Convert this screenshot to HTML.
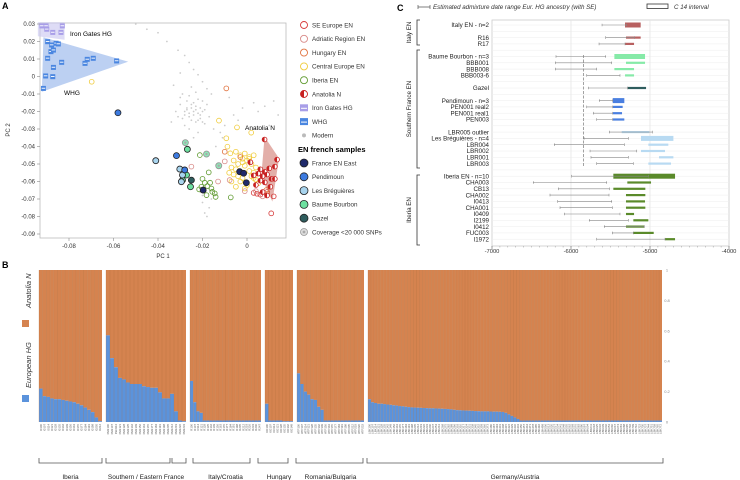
<!DOCTYPE html>
<html><head><meta charset="utf-8"><style>
html,body{margin:0;padding:0;background:#fff}
svg{display:block;font-family:"Liberation Sans",sans-serif}
</style></head><body>
<svg id="fig" width="740" height="480" viewBox="0 0 740 480">
<text x="2" y="9" font-size="9" font-weight="bold">A</text>
<text x="2" y="268" font-size="9" font-weight="bold">B</text>
<text x="397" y="11" font-size="9" font-weight="bold">C</text>
<g id="pa"></g>
<g id="leg"></g>
<g id="pb"></g>
<g id="pc"></g>
</svg>
<script>
// ---------- Panel A data (PC1, PC2) ----------
const whgX=[-0.0896,-0.0878,-0.0858,-0.0848,-0.0881,-0.0870,-0.0896,-0.0833,-0.0870,-0.0728,-0.0718,-0.0691,-0.0586,-0.0905,-0.0873,-0.0915];
const whgY=[0.0199,0.0180,0.0190,0.0186,0.0142,0.0151,0.0104,0.0081,0.0052,0.0075,0.0098,0.0104,0.0089,0.0003,-0.0001,-0.0068];
const igX=[-0.0922,-0.0903,-0.0900,-0.0873,-0.0836,-0.0830];
const igY=[0.0289,0.0289,0.0270,0.0252,0.0252,0.0289];
const modX=[-0.050,-0.045,-0.040,-0.036,-0.031,-0.028,-0.026,-0.024,-0.022,-0.020,-0.018,-0.016,-0.030,-0.027,-0.025,-0.023,-0.021,-0.019,-0.028,-0.026,-0.024,-0.022,-0.020,-0.017,-0.029,-0.025,-0.023,-0.021,-0.019,-0.027,-0.024,-0.022,-0.018,-0.026,-0.023,-0.020,-0.032,-0.034,-0.015,-0.012,-0.010,-0.006,-0.002,0.003,0.008,0.012,0.014,-0.008,-0.004,0.005,0.010,-0.014,-0.011,-0.020,-0.017,-0.019,-0.016,-0.021,-0.018,-0.020,-0.017,-0.033,-0.030,-0.022,-0.024,-0.026,-0.028,-0.031,-0.029,-0.025,-0.027,-0.025,-0.023,-0.021,-0.026,-0.024,-0.022,-0.028,-0.030,-0.020];
const modY=[0.030,0.027,0.025,0.020,0.015,0.012,0.008,0.004,0.001,-0.003,-0.007,-0.010,-0.012,-0.014,-0.016,-0.017,-0.018,-0.019,-0.020,-0.021,-0.022,-0.021,-0.020,-0.023,-0.024,-0.025,-0.026,-0.024,-0.027,-0.018,-0.015,-0.013,-0.016,-0.011,-0.009,-0.014,-0.020,-0.026,-0.030,-0.032,-0.028,-0.022,-0.018,-0.015,-0.017,-0.014,-0.022,-0.012,-0.025,-0.020,-0.028,-0.040,-0.035,-0.072,-0.075,-0.078,-0.070,-0.066,-0.080,-0.068,-0.064,-0.005,0.002,-0.032,-0.035,-0.030,-0.028,-0.023,-0.010,-0.006,-0.019,-0.018,-0.019,-0.022,-0.023,-0.020,-0.025,-0.022,-0.016,-0.026];
const ceX=[-0.0698,-0.0126,-0.0045,-0.0093,-0.0088,0.0019,-0.0075,-0.005,-0.003,-0.001,0.001,0.003,-0.006,-0.004,-0.002,0.000,0.002,0.004,-0.007,-0.005,-0.001,0.001,0.003,-0.006,-0.004,-0.002,0.002,0.004,-0.008,-0.003,0.000,0.005,-0.005,-0.001,0.003,-0.007,-0.002,0.001];
const ceY=[-0.0030,-0.0252,-0.0291,-0.0353,-0.0401,-0.0321,-0.0439,-0.043,-0.045,-0.044,-0.046,-0.045,-0.048,-0.050,-0.049,-0.048,-0.050,-0.052,-0.052,-0.053,-0.051,-0.054,-0.055,-0.056,-0.057,-0.058,-0.057,-0.059,-0.055,-0.060,-0.062,-0.061,-0.063,-0.064,-0.058,-0.060,-0.047,-0.047];
const ibX=[-0.0212,-0.0172,-0.0190,-0.0205,-0.0178,-0.0156,-0.0145,-0.0182,-0.0141,-0.0073,-0.0200,-0.0166,-0.0215,-0.0160];
const ibY=[-0.0449,-0.0548,-0.0607,-0.0630,-0.0626,-0.0659,-0.0668,-0.0678,-0.0688,-0.0691,-0.0585,-0.0607,-0.0645,-0.0640];
const seX=[0.0109,0.003,0.006,0.009,0.012,0.0015,0.0045];
const seY=[-0.0782,-0.0665,-0.0675,-0.0660,-0.0685,-0.0490,-0.0670];
const adX=[-0.025,-0.0078,-0.001,-0.013,-0.010,0.007,0.004];
const adY=[-0.0515,-0.0592,-0.0655,-0.0600,-0.0485,-0.0685,-0.0655];
const huX=[-0.0093,-0.0100,0.0087,-0.003,0.009];
const huY=[-0.0068,-0.0430,-0.0649,-0.0460,-0.0670];
const anX=[0.0079,0.0015,0.006,0.008,0.010,0.0125,0.005,0.007,0.009,0.011,0.006,0.008,0.004,0.0105,0.0135,0.0125,0.003,0.007,0.009];
const anY=[-0.0360,-0.0490,-0.0530,-0.0545,-0.0525,-0.0515,-0.0555,-0.0570,-0.0560,-0.0585,-0.0595,-0.0605,-0.0620,-0.0630,-0.0475,-0.0585,-0.0565,-0.0660,-0.0680];
const feX=[-0.0033,-0.0015,-0.0003,-0.0197];
const feY=[-0.0544,-0.0553,-0.0607,-0.0649];
const peX=[-0.058,-0.0317,-0.028];
const peY=[-0.0207,-0.0452,-0.0534];
const lbX=[-0.041,-0.0302,-0.029,-0.0295];
const lbY=[-0.0481,-0.0529,-0.0563,-0.0601];
const bbX=[-0.0268,-0.0272,-0.029,-0.0254];
const bbY=[-0.0416,-0.0563,-0.0592,-0.0630];
const lowX=[-0.0277,-0.0182,-0.0127];
const lowY=[-0.0378,-0.0443,-0.0510];
const gzX=[-0.025];
const gzY=[-0.0592];
const pcaXTicks=[-0.08,-0.06,-0.04,-0.02,0];
const pcaYTicks=[0.03,0.02,0.01,0,-0.01,-0.02,-0.03,-0.04,-0.05,-0.06,-0.07,-0.08,-0.09];

// ---------- Panel B data (European HG fraction) ----------
const bIberia=[0.22,0.17,0.165,0.155,0.15,0.15,0.145,0.14,0.135,0.13,0.12,0.11,0.095,0.08,0.065,0.03,0.005];
const bFrance=[0.57,0.42,0.36,0.29,0.28,0.26,0.25,0.25,0.25,0.235,0.23,0.225,0.225,0.195,0.155,0.155,0.185,0.07,0.01,0.005];
const bItaly=[0.27,0.13,0.07,0.06,0.01,0.01,0.01,0.01,0.01,0.01,0.01,0.01,0.01,0.01,0.01,0.01,0.01,0.01,0.01,0.01,0.01,0.01];
const bHungary=[0.12,0.01,0.01,0.01,0.01,0.005,0.005,0.005];
const bRomania=[0.32,0.25,0.2,0.18,0.15,0.145,0.1,0.08,0.01,0.01,0.01,0.01,0.01,0.01,0.01,0.01,0.01,0.01,0.01,0.01];
const bGermany=[0.15,0.13,0.125,0.12,0.12,0.118,0.115,0.113,0.11,0.108,0.105,0.103,0.1,0.098,0.096,0.095,0.094,0.093,0.092,0.091,0.09,0.09,0.089,0.088,0.087,0.086,0.085,0.083,0.08,0.078,0.077,0.076,0.075,0.074,0.073,0.072,0.071,0.07,0.07,0.07,0.069,0.068,0.068,0.067,0.066,0.06,0.05,0.04,0.03,0.02,0.01,0.01,0.01,0.01,0.01,0.01,0.01,0.01,0.01,0.01,0.01,0.01,0.01,0.01,0.01,0.01,0.01,0.01,0.01,0.01,0.01,0.01,0.01,0.01,0.01,0.01,0.01,0.01,0.01,0.01,0.01,0.01,0.01,0.01,0.01,0.01,0.01,0.01,0.01,0.01,0.01,0.01,0.01,0.01,0.01,0.01,0.01];
const bGroups=["Iberia","Southern / Eastern France","Italy/Croatia","Hungary","Romania/Bulgaria","Germany/Austria"];
const bPrefix=["I0","PEN","R","KO","ATP","LBK"];
const bYTicks=[1,0.8,0.6,0.4,0.2,0];

// ---------- Panel C data (years) ----------
const cLabels=["Italy EN - n=2","R16","R17","Baume Bourbon - n=3","BBB001","BBB008","BBB003-6","Gazel","Pendimoun - n=3","PEN001 real2","PEN001 real1","PEN003","LBR005 outlier","Les Bréguières - n=4","LBR004","LBR002","LBR001","LBR003","Iberia EN - n=10","CHA003","CB13","CHA002","I0413","CHA001","I0409","I2199","I0412","FUC003","I1972"];
const cRows=[0,2,3,5,6,7,8,10,12,13,14,15,17,18,19,20,21,22,24,25,26,27,28,29,30,31,32,33,34];
const admLo=[-5607,-5561,-5645,-6190,-6198,-6198,-5801,-5780,-5641,-5801,-5717,-5675,-5514,-5835,-6211,-5759,-5747,-5675,-5991,-6477,-6160,-6266,-6169,-6139,-6084,-5768,-5578,-5477,-5675];
const admHi=[-5295,-5198,-5316,-5561,-5485,-5675,-5380,-5282,-5472,-5472,-5472,-5472,-4970,-5274,-5325,-5168,-5274,-5211,-5021,-5548,-5514,-5519,-5485,-5477,-5380,-5274,-5072,-5211,-4810];
const c14Lo=[-5316,-5304,-5316,-5451,-5304,-5451,-5316,-5287,-5472,-5472,-5472,-5472,-5358,-5114,-5021,-5114,-4886,-5021,-5464,-5287,-5464,-5304,-5304,-5304,-5304,-5211,-5304,-5211,-4810];
const c14Hi=[-5118,-5118,-5202,-5063,-5063,-5202,-5202,-5050,-5325,-5346,-5354,-5325,-5008,-4704,-4768,-4810,-4704,-4734,-4683,-4987,-5059,-5059,-5063,-5059,-5202,-5021,-5072,-4953,-4683];
const cGroup=[0,0,0,1,1,1,1,2,3,3,3,3,4,4,4,4,4,4,5,5,5,5,5,5,5,5,5,5,5];
const cXTicks=[-7000,-6000,-5000,-4000];

const NS="http://www.w3.org/2000/svg";
function mk(p,t,a,txt){const e=document.createElementNS(NS,t);for(const k in a)e.setAttribute(k,a[k]);if(txt!==undefined)e.textContent=txt;p.appendChild(e);return e;}

// ===== Panel A =====
const pa=document.getElementById('pa');
const ax=x=>247+x*2225, ay=y=>24+(0.03-y)*1750;
mk(pa,'rect',{x:40,y:23,width:246,height:215,fill:'#fff',stroke:'#bbb','stroke-width':0.8});
for(let i=0;i<modX.length;i++){const e=mk(pa,'circle',{cx:ax(modX[i]),cy:ay(modY[i]),r:0.9,fill:'#ccc'});

}
let h=mk(pa,'polygon',{points:[[-0.0915,0.0224],[-0.0534,0.0085],[-0.0922,-0.0087]].map(p=>ax(p[0])+','+ay(p[1])).join(' '),fill:'#8fb0ea','fill-opacity':0.6});

h=mk(pa,'polygon',{points:[[-0.094,0.031],[-0.082,0.031],[-0.082,0.021],[-0.094,0.023]].map(p=>ax(p[0])+','+ay(p[1])).join(' '),fill:'#c8c4f0','fill-opacity':0.6});

h=mk(pa,'polygon',{points:[[0.0079,-0.0344],[0.0144,-0.0468],[0.0114,-0.0715],[0.0064,-0.0573]].map(p=>ax(p[0])+','+ay(p[1])).join(' '),fill:'#d07a70','fill-opacity':0.6});

function sq(X,Y,c,name){for(let i=0;i<X.length;i++){const g=mk(pa,'g',{});


mk(g,'rect',{x:ax(X[i])-2.5,y:ay(Y[i])-2.5,width:5,height:5,fill:c});mk(g,'rect',{x:ax(X[i])-1.8,y:ay(Y[i])-0.6,width:3.6,height:0.9,fill:'#fff'});}}
sq(igX,igY,'#a89ee8','iron-gates-point');sq(whgX,whgY,'#4a86e0','whg-point');
function oc(X,Y,c,name){for(let i=0;i<X.length;i++){const e=mk(pa,'circle',{cx:ax(X[i]),cy:ay(Y[i]),r:2.4,fill:'none',stroke:c,'stroke-width':0.8});

}}
oc(ceX,ceY,'#f0cc3c','central-europe-point');oc(ibX,ibY,'#5e9a2e','iberia-point');oc(seX,seY,'#d63a3a','se-europe-point');oc(adX,adY,'#d88a88','adriatic-point');oc(huX,huY,'#e0703c','hungary-point');
for(let i=0;i<anX.length;i++){const g=mk(pa,'g',{});


const cx=ax(anX[i]),cy=ay(anY[i]);mk(g,'circle',{cx:cx,cy:cy,r:2.4,fill:'#fff',stroke:'#c82020','stroke-width':0.8});mk(g,'path',{d:`M${cx},${cy-2.4}A2.4,2.4 0 0 0 ${cx},${cy+2.4}Z`,fill:'#c82020'});}
function fc(X,Y,c,name,low){for(let i=0;i<X.length;i++){const e=mk(pa,'circle',{cx:ax(X[i]),cy:ay(Y[i]),r:3,fill:c,stroke:low?'#999':'#222','stroke-width':low?0.9:0.8});


if(low)mk(pa,'circle',{cx:ax(X[i]),cy:ay(Y[i]),r:1.2,fill:'#aaa'});}}
fc(bbX,bbY,'#6ee0a0','baume-bourbon-point');fc(lowX,lowY,'#8ee8b8','low-coverage-point',true);fc(lbX,lbY,'#a8d4ee','les-breguieres-point');fc(peX,peY,'#3d7be0','pendimoun-point');fc(gzX,gzY,'#2f5d5e','gazel-point');fc(feX,feY,'#1f2a6b','france-en-east-point');
mk(pa,'text',{x:70,y:36,'font-size':6.5},'Iron Gates HG');
mk(pa,'text',{x:64,y:95,'font-size':6.5},'WHG');
mk(pa,'text',{x:245,y:130,'font-size':6.5},'Anatolia N');
pcaXTicks.forEach(t=>{mk(pa,'line',{x1:ax(t),x2:ax(t),y1:238,y2:241,stroke:'#888','stroke-width':0.6});mk(pa,'text',{x:ax(t),y:248,'font-size':6,'text-anchor':'middle',fill:'#333'},t===0?'0':t.toFixed(2));});
pcaYTicks.forEach(t=>{mk(pa,'line',{x1:37,x2:40,y1:ay(t),y2:ay(t),stroke:'#888','stroke-width':0.6});mk(pa,'text',{x:35,y:ay(t)+2,'font-size':6,'text-anchor':'end',fill:'#333'},t===0?'0':t.toFixed(2));});
mk(pa,'text',{x:163,y:258,'font-size':6,'text-anchor':'middle',fill:'#333'},'PC 1');
mk(pa,'text',{x:0,y:0,'font-size':6,'text-anchor':'middle',fill:'#333',transform:'translate(10,130) rotate(-90)'},'PC 2');

// legend
const leg=document.getElementById('leg');
const L=[['o','#d63a3a','SE Europe EN'],['o','#d88a88','Adriatic Region EN'],['o','#e0703c','Hungary EN'],['o','#f0cc3c','Central Europe EN'],['o','#5e9a2e','Iberia EN'],['h','#c82020','Anatolia N'],['s','#a89ee8','Iron Gates HG'],['s','#4a86e0','WHG'],['m','#aaa','Modern'],['H','','EN french samples'],['f','#1f2a6b','France EN East'],['f','#3d7be0','Pendimoun'],['f','#a8d4ee','Les Bréguières'],['f','#6ee0a0','Baume Bourbon'],['f','#2f5d5e','Gazel'],['l','#ccc','Coverage <20 000 SNPs']];
L.forEach((d,i)=>{const y=25+i*13.8;const g=mk(leg,'g',{});


if(d[0]==='H'){mk(g,'text',{x:298,y:y+3,'font-size':7.5,'font-weight':'bold'},d[2]);return;}
if(d[0]==='o')mk(g,'circle',{cx:304,cy:y,r:3.5,fill:'none',stroke:d[1],'stroke-width':0.9});
if(d[0]==='h'){mk(g,'circle',{cx:304,cy:y,r:3.5,fill:'#fff',stroke:d[1],'stroke-width':0.9});mk(g,'path',{d:`M304,${y-3.5}A3.5,3.5 0 0 0 304,${y+3.5}Z`,fill:d[1]});}
if(d[0]==='s'){mk(g,'rect',{x:300,y:y-3.5,width:8,height:7,fill:d[1]});mk(g,'rect',{x:301,y:y,width:6,height:1,fill:'#fff'});}
if(d[0]==='m')mk(g,'circle',{cx:304,cy:y,r:2,fill:'#bbb'});
if(d[0]==='f')mk(g,'circle',{cx:304,cy:y,r:4,fill:d[1],stroke:'#222','stroke-width':0.8});
if(d[0]==='l'){mk(g,'circle',{cx:304,cy:y,r:3.5,fill:'#ddd',stroke:'#999','stroke-width':0.8});mk(g,'circle',{cx:304,cy:y,r:1.4,fill:'#aaa'});}
mk(g,'text',{x:312,y:y+2.3,'font-size':6.3,fill:'#333'},d[2]);});

// ===== Panel B =====
const pb=document.getElementById('pb');
const by=v=>422-v*152;
const groups=[bIberia,bFrance,bItaly,bHungary,bRomania,bGermany];
const gx=[[39,102],[106,186],[190,261],[265,293],[297,364],[368,662]];
const brk=[[[39,102]],[[106,170],[172,186]],[[193,250]],[[258,288]],[[296,363]],[[367,663]]];
groups.forEach((arr,gi)=>{const x0=gx[gi][0],w=(gx[gi][1]-gx[gi][0])/arr.length;
arr.forEach((v,i)=>{const x=x0+i*w;const g=mk(pb,'g',{});


mk(g,'rect',{x:x,y:270,width:w,height:by(v)-270,fill:'#d5834f'});
mk(g,'rect',{x:x,y:by(v),width:w,height:422-by(v),fill:'#5b93dc'});
mk(g,'line',{x1:x,x2:x,y1:270,y2:422,stroke:'#b0703f','stroke-width':0.25});
mk(g,'text',{x:0,y:0,'font-size':2.8,fill:'#555','text-anchor':'end',transform:`translate(${x+w/2+1},424) rotate(-90)`},bPrefix[gi]+(100+i*7));});
brk[gi].forEach(b=>{mk(pb,'path',{d:`M${b[0]},458V463H${b[1]}V458`,fill:'none',stroke:'#555','stroke-width':0.8});});
const t=mk(pb,'text',{x:(gx[gi][0]+gx[gi][1])/2,y:479,'font-size':6.5,'text-anchor':'middle',fill:'#222'},bGroups[gi]);

});
bYTicks.forEach(t=>{mk(pb,'text',{x:667,y:by(t)+1.5,'font-size':4,fill:'#888','text-anchor':'middle'},String(t));});
mk(pb,'rect',{x:22,y:320,width:7,height:7,fill:'#d5834f'});
mk(pb,'rect',{x:22,y:395,width:7,height:7,fill:'#5b93dc'});
mk(pb,'text',{x:0,y:0,'font-size':7.5,'font-style':'italic',fill:'#333',transform:'translate(31,308) rotate(-90)'},'Anatolia N');
mk(pb,'text',{x:0,y:0,'font-size':7.5,'font-style':'italic',fill:'#333',transform:'translate(31,388) rotate(-90)'},'European HG');

// ===== Panel C =====
const pc=document.getElementById('pc');
const cx=v=>492+(v+7000)*0.079, rowY=r=>25+r*6.3;
mk(pc,'rect',{x:492,y:20,width:237,height:226,fill:'#fff',stroke:'#ccc','stroke-width':0.8});
for(let r=0;r<35;r++)mk(pc,'line',{x1:492,x2:729,y1:rowY(r),y2:rowY(r),stroke:'#eee','stroke-width':0.5});
[-6000,-5000].forEach(v=>mk(pc,'line',{x1:cx(v),x2:cx(v),y1:20,y2:246,stroke:'#e2e2e2','stroke-width':0.7}));
mk(pc,'line',{x1:cx(-5844),x2:cx(-5844),y1:55,y2:167,stroke:'#666','stroke-width':0.6,'stroke-dasharray':'3,1.5'});
const cCols=['#b86060','#86eaa8','#2f5d5e','#4a7fe0','#b8daf2','#5a8a2a'];
cLabels.forEach((lab,i)=>{const y=rowY(cRows[i]);const g=mk(pc,'g',{});


const main=/n=/.test(lab);const hh=main?5:2.2;
mk(g,'rect',{x:cx(c14Lo[i]),y:y-hh/2,width:cx(c14Hi[i])-cx(c14Lo[i]),height:hh,fill:cCols[cGroup[i]]});
mk(g,'line',{x1:cx(admLo[i]),x2:cx(admHi[i]),y1:y,y2:y,stroke:'#888','stroke-width':0.6});
mk(g,'line',{x1:cx(admLo[i]),x2:cx(admLo[i]),y1:y-1.3,y2:y+1.3,stroke:'#888','stroke-width':0.6});
mk(g,'line',{x1:cx(admHi[i]),x2:cx(admHi[i]),y1:y-1.3,y2:y+1.3,stroke:'#888','stroke-width':0.6});
mk(g,'text',{x:489,y:y+2.2,'font-size':6.2,'text-anchor':'end',fill:'#222'},lab);});
cXTicks.forEach(t=>{mk(pc,'text',{x:cx(t),y:253,'font-size':5.8,'text-anchor':'middle',fill:'#333'},String(t));mk(pc,'line',{x1:cx(t),x2:cx(t),y1:246,y2:249,stroke:'#666','stroke-width':0.6});});
for(let v=-7000;v<=-4000;v+=100)mk(pc,'line',{x1:cx(v),x2:cx(v),y1:246,y2:247.5,stroke:'#888','stroke-width':0.4});
[[20,45,'Italy EN'],[50,168,'Southern France EN'],[175,245,'Iberia EN']].forEach(b=>{mk(pc,'path',{d:`M420,${b[0]}H417V${b[1]}H420`,fill:'none',stroke:'#333','stroke-width':0.8});
const t=mk(pc,'text',{x:0,y:0,'font-size':6.2,'text-anchor':'middle',fill:'#222',transform:`translate(411,${(b[0]+b[1])/2}) rotate(-90)`},b[2]);

});
mk(pc,'path',{d:'M418,5V9M418,7H430M430,5V9',stroke:'#555','stroke-width':0.7,fill:'none'});
mk(pc,'text',{x:433,y:9,'font-size':6.2,'font-style':'italic',fill:'#333'},'Estimated admixture date range Eur. HG ancestry (with SE)');
mk(pc,'rect',{x:647,y:4,width:21,height:4.5,fill:'none',stroke:'#333','stroke-width':0.8});
mk(pc,'text',{x:674,y:9,'font-size':6.2,'font-style':'italic',fill:'#333'},'C 14 interval');
</script>
</body></html>
